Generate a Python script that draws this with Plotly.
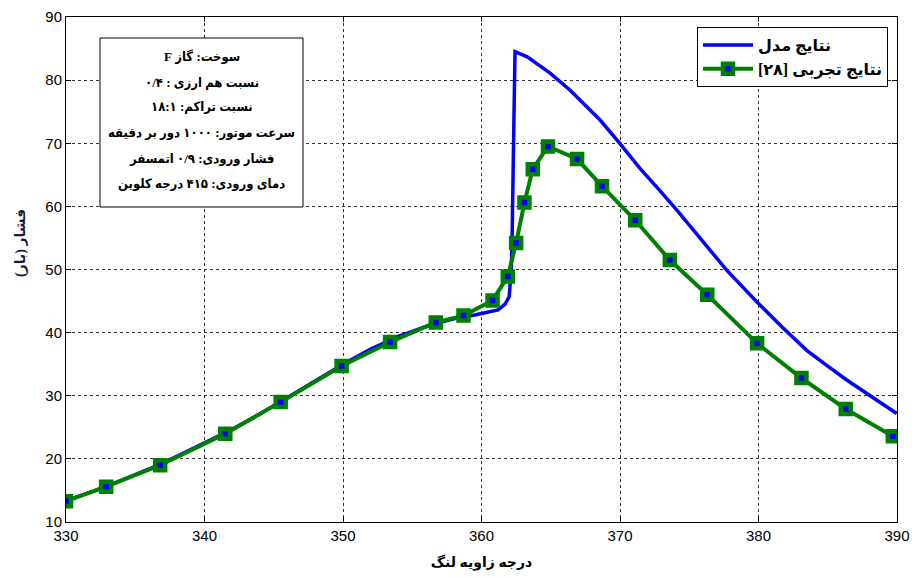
import plotly.graph_objects as go

# Model results (blue line)
model_x = [330, 332, 334, 336, 338, 340, 342, 344, 346, 348, 350, 352, 354, 356, 358,
           359.5, 360.5, 361.2, 361.7, 362.0, 362.15, 362.2, 362.3, 362.42,
           363.3, 364.95, 366.4, 367.83, 368.56, 370.0, 371.44, 372.8, 374.09, 377.7, 379.87,
           381.7, 383.48, 385.0, 386.37, 388.2, 389.98]
model_y = [13.4, 14.9, 16.6, 18.4, 20.4, 22.5, 24.7, 27.1, 29.7, 32.3, 35.0, 37.4, 39.4, 41.0, 42.2,
           42.8, 43.2, 43.6, 44.5, 45.7, 50.0, 53.6, 68.1, 84.5,
           83.7, 81.1, 78.4, 75.27, 73.68, 69.95, 66.03, 62.7, 59.43, 49.9, 44.9,
           40.9, 37.2, 34.7, 32.5, 29.8, 27.2]

# Experimental results (green squares)
exp_x = [330, 332.9, 336.8, 341.5, 345.5, 349.9, 353.4, 356.7, 358.7, 360.8, 361.9, 362.5,
         363.1, 363.7, 364.8, 366.9, 368.7, 371.1, 373.6, 376.3, 379.9, 383.1, 386.3, 389.7]
exp_y = [13.3, 15.6, 19.0, 24.0, 29.0, 34.7, 38.5, 41.6, 42.7, 45.1, 48.9, 54.2,
         60.6, 65.9, 69.5, 67.5, 63.2, 57.8, 51.5, 46.0, 38.3, 32.8, 27.9, 23.6]

x_ticks = [330, 340, 350, 360, 370, 380, 390]
y_ticks = [10, 20, 30, 40, 50, 60, 70, 80, 90]

RLE, PDF = "\u202b", "\u202c"
legend_names = ["نتایج مدل", "نتایج تجربی [۲۸]"]
info_lines = [
    "سوخت: گاز F",
    "نسبت هم ارزی : ۰/۴",
    "نسبت تراکم: ۱۸:۱",
    "سرعت موتور: ۱۰۰۰ دور بر دقیقه",
    "فشار ورودی: ۰/۹ اتمسفر",
    "دمای ورودی: ۴۱۵ درجه کلوین",
]
x_title = "درجه زاویه لنگ"
y_title = "فشار (بار)"

fa_font = "Liberation Serif, DejaVu Sans, sans-serif"
fa_cond = "Liberation Serif, DejaVu Sans Condensed, DejaVu Sans, sans-serif"

fig = go.Figure()
fig.add_trace(go.Scatter(
    x=model_x, y=model_y, mode="lines",
    line=dict(color="#0000FF", width=3.5),
    name="<b>" + RLE + legend_names[0] + PDF + "</b>",
))
fig.add_trace(go.Scatter(
    x=exp_x, y=exp_y, mode="lines+markers",
    line=dict(color="#008000", width=4),
    marker=dict(symbol="square", size=10, color="#0000FF",
                line=dict(color="#008000", width=4.5)),
    name="<b>" + RLE + legend_names[1] + PDF + "</b>",
))

axis_common = dict(
    showline=True, linecolor="black", linewidth=1, mirror="ticks",
    ticks="inside", ticklen=5, tickcolor="black",
    showgrid=True, gridcolor="#333333", griddash="3px,3px", gridwidth=1,
    zeroline=False, automargin=False,
    tickfont=dict(family="Liberation Sans, Arial, sans-serif", size=15, color="black"),
)

fig.update_xaxes(range=[330, 390], tickvals=x_ticks, **axis_common,
                 title=dict(text="<b>" + RLE + x_title + PDF + "</b>",
                            font=dict(family=fa_font, size=14, color="black"),
                            standoff=14))
fig.update_yaxes(range=[10, 90], tickvals=y_ticks, **axis_common)

# y-axis title as rotated annotation
fig.add_annotation(xref="paper", yref="paper", x=(21 - 66) / 831, y=1 - (243 - 17) / 505,
                   text="<b>" + RLE + y_title + PDF + "</b>", textangle=-90, showarrow=False,
                   xanchor="center", yanchor="middle",
                   font=dict(family=fa_font, size=14, color="#1a1a40"))

# Info box
x0p, x1p = (100 - 66) / 831, (303 - 66) / 831
y0p, y1p = 1 - (207 - 17) / 505, 1 - (38 - 17) / 505
fig.add_shape(type="rect", xref="paper", yref="paper", x0=x0p, x1=x1p, y0=y0p, y1=y1p,
              line=dict(color="black", width=1), fillcolor="white", layer="above")
line_px = [57, 82, 107, 132, 158, 183]
for txt, py in zip(info_lines, line_px):
    fig.add_annotation(xref="paper", yref="paper", x=(x0p + x1p) / 2, y=1 - (py - 17) / 505,
                       text="<b>" + RLE + txt + PDF + "</b>", showarrow=False,
                       xanchor="center", yanchor="middle",
                       font=dict(family=fa_cond, size=13, color="black"))

fig.update_layout(
    width=912, height=577,
    margin=dict(l=66, r=15, t=17, b=55),
    paper_bgcolor="white", plot_bgcolor="white",
    legend=dict(x=1 - 9 / 831, xanchor="right", y=1 - 10 / 505, yanchor="top",
                bgcolor="white", bordercolor="black", borderwidth=1,
                font=dict(family=fa_font, size=16, color="black"),
                itemwidth=50),
    showlegend=True,
)

fig.write_html("out.html", config={"displayModeBar": False},
               post_script="document.body.style.margin='0';")
